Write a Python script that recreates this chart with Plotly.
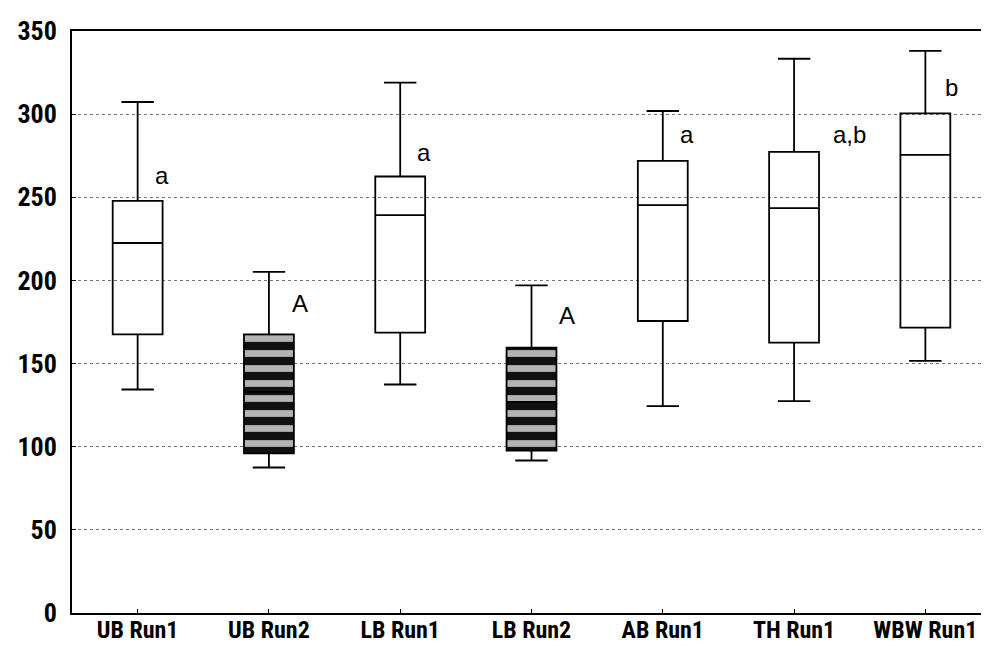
import plotly.graph_objects as go

categories = ["UB Run1", "UB Run2", "LB Run1", "LB Run2", "AB Run1", "TH Run1", "WBW Run1"]
lower = [134.4, 87.5, 137.4, 91.7, 124.4, 127.4, 151.6]
q1 = [167.6, 96.0, 168.6, 97.7, 175.6, 162.6, 171.6]
median = [222.5, 133.0, 239.3, 127.0, 245.3, 243.5, 275.5]
q3 = [247.9, 167.6, 262.5, 159.6, 271.9, 277.3, 300.5]
upper = [307.3, 205.2, 319.0, 197.0, 301.9, 333.3, 338.0]
letters = ["a", "A", "a", "A", "a", "a,b", "b"]
dark = [False, True, False, True, False, False, False]

y_ticks = [0, 50, 100, 150, 200, 250, 300, 350]

narrow = "Liberation Sans Narrow, Arial Narrow, Roboto Condensed, Liberation Sans, Arial"
plain = "Liberation Sans, Arial, sans-serif"

fig = go.Figure()

dark_idx = [i for i, d in enumerate(dark) if d]
light_idx = [i for i, d in enumerate(dark) if not d]

# striped fill for dark boxes
fig.add_trace(go.Bar(
    x=[categories[i] for i in dark_idx],
    y=[q3[i] - q1[i] for i in dark_idx],
    base=[q1[i] for i in dark_idx],
    width=0.38,
    marker=dict(color="black", line=dict(width=0),
                pattern=dict(shape="-", bgcolor="#111111", fgcolor="#b4b4b4",
                             size=15, solidity=0.45, fillmode="replace")),
    hoverinfo="skip", showlegend=False,
))

def add_boxes(idx, fill):
    fig.add_trace(go.Box(
        x=[categories[i] for i in idx],
        q1=[q1[i] for i in idx],
        median=[median[i] for i in idx],
        q3=[q3[i] for i in idx],
        lowerfence=[lower[i] for i in idx],
        upperfence=[upper[i] for i in idx],
        width=0.38,
        whiskerwidth=0.65,
        fillcolor=fill,
        line=dict(color="black", width=1.8),
        showlegend=False,
        boxpoints=False,
    ))

add_boxes(light_idx, "rgba(255,255,255,0)")
add_boxes(dark_idx, "rgba(0,0,0,0)")

# letter annotations
xshift = [15, 21, 15, 25, 15, 37, 18]
yshift = [10, 15, 9, 17, 11, 2, 10]
for i, lab in enumerate(letters):
    fig.add_annotation(
        x=categories[i], y=q3[i], text=lab, showarrow=False,
        xanchor="left", yanchor="bottom", xshift=xshift[i], yshift=yshift[i],
        font=dict(family=plain, size=24, color="black"),
    )

fig.update_layout(
    width=989, height=646,
    margin=dict(l=64, r=4, t=23, b=41),
    paper_bgcolor="white", plot_bgcolor="white",
    boxmode="overlay", barmode="overlay",
    showlegend=False,
)
fig.update_xaxes(
    categoryorder="array", categoryarray=categories,
    range=[-0.5, len(categories) - 0.5],
    showgrid=False, showline=True, linecolor="black", linewidth=2, mirror=True,
    ticks="inside", ticklen=4, tickcolor="black", ticklabelstandoff=-6,
    tickfont=dict(family=narrow, size=24, color="black", weight="bold"),
)
fig.update_yaxes(
    range=[0, 350], tickvals=y_ticks, ticktext=[str(v) for v in y_ticks],
    showgrid=True, gridcolor="#777777", griddash="dot", gridwidth=1,
    showline=True, linecolor="black", linewidth=2, mirror=True,
    ticks="inside", ticklen=4, tickcolor="black", ticklabelstandoff=8,
    tickfont=dict(family=narrow, size=26, color="black", weight="bold"),
    zeroline=False,
)

fig.write_html("out.html")
